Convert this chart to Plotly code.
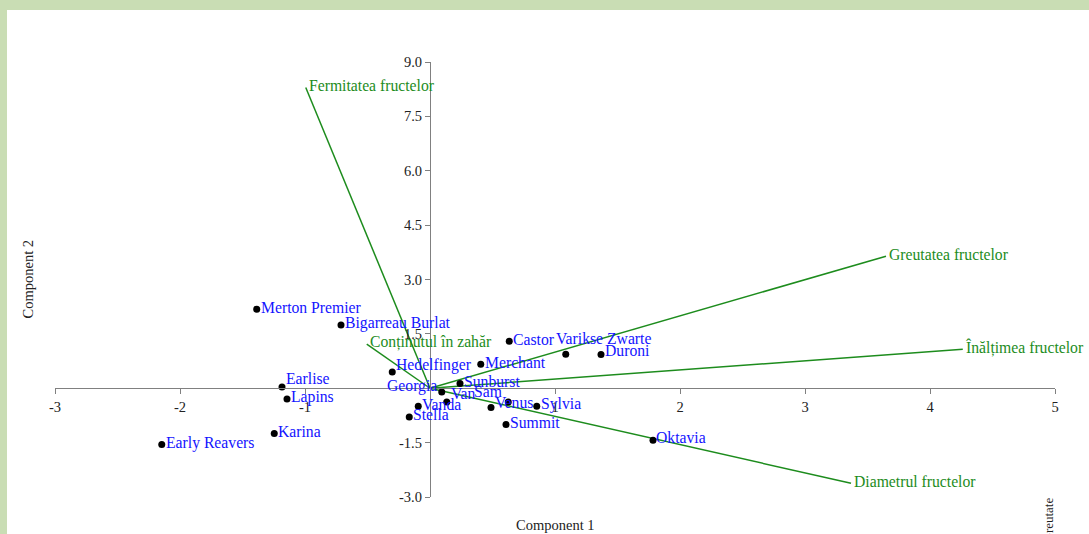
import plotly.graph_objects as go

# Cultivar scores on the first two principal components
cultivars = ["Merton Premier", "Bigarreau Burlat", "Hedelfinger", "Earlise", "Lapins",
             "Karina", "Early Reavers", "Georgia", "Van", "Sam", "Vanda", "Stella",
             "Sunburst", "Merchant", "Castor", "Venus", "Sylvia", "Summit",
             "Varikse Zwarte", "Duroni", "Oktavia"]
pc1 = [-1.386, -0.712, -0.302, -1.184, -1.144, -1.246, -2.146, 0.094, 0.134, 0.626,
       -0.094, -0.166, 0.240, 0.406, 0.634, 0.488, 0.854, 0.608, 1.086, 1.368, 1.784]
pc2 = [2.179, 1.746, 0.450, 0.036, -0.295, -1.250, -1.553, -0.102, -0.378, -0.378,
       -0.497, -0.792, 0.130, 0.662, 1.297, -0.532, -0.497, -1.001, 0.938, 0.930, -1.434]

# Trait loadings (biplot vectors)
traits = ["Fermitatea fructelor", "Greutatea fructelor", "Înălțimea fructelor",
          "Diametrul fructelor", "Conținutul în zahăr"]
load1 = [-0.994, 3.648, 4.262, 3.368, -0.506]
load2 = [8.295, 3.641, 1.076, -2.620, 1.214]

# Axis ticks
x_ticks = [-3, -2, -1, 1, 2, 3, 4, 5]
x_tick_text = ["-3", "-2", "-1", "1", "2", "3", "4", "5"]
y_ticks = [-3.0, -1.5, 1.5, 3.0, 4.5, 6.0, 7.5, 9.0]
y_tick_text = ["-3.0", "-1.5", "1.5", "3.0", "4.5", "6.0", "7.5", "9.0"]

SERIF = "Liberation Serif, Times New Roman, serif"
GREEN = "#1d8c1d"
BLUE = "#1414ff"
AXIS = "#808080"

# label placement tweaks (side, pixel x shift, pixel lift)
label_place = {
    "Earlise": ("left", 2, 8),
    "Hedelfinger": ("left", 2, 7),
    "Georgia": ("right", -3, 6),
    "Van": ("left", 2, 8),
    "Sam": ("right", -4, 10),
    "Venus": ("left", 2, 5),
    "Varikse Zwarte": ("left", -12, 16),
    "Duroni": ("left", 2, 4),
    "Oktavia": ("left", 1, 3),
}

fig = go.Figure()

for name, a, b in zip(traits, load1, load2):
    fig.add_trace(go.Scatter(x=[0, a], y=[0, b], mode="lines",
                             line=dict(color=GREEN, width=1.5),
                             hoverinfo="skip", showlegend=False, cliponaxis=False))

fig.add_trace(go.Scatter(x=pc1, y=pc2, mode="markers", text=cultivars,
                         marker=dict(color="black", size=7),
                         showlegend=False, cliponaxis=False))

annotations = []
for name, a, b in zip(cultivars, pc1, pc2):
    side, dx, lift = label_place.get(name, ("left", 2, 2))
    annotations.append(dict(x=a, y=b, xref="x", yref="y", text=name, showarrow=False,
                            xanchor=side, yanchor="middle", xshift=dx, yshift=lift,
                            font=dict(family=SERIF, size=15.7, color=BLUE)))
for name, a, b in zip(traits, load1, load2):
    annotations.append(dict(x=a, y=b, xref="x", yref="y", text=name, showarrow=False,
                            xanchor="left", yanchor="middle", xshift=1, yshift=2,
                            font=dict(family=SERIF, size=15.7, color=GREEN)))

annotations += [
    dict(x=0.5, y=-0.0644, xref="paper", yref="paper", text="Component 1",
         showarrow=False, xanchor="center", yanchor="middle",
         font=dict(family=SERIF, size=14.5, color="#222")),
    dict(x=-0.028, y=0.5, xref="paper", yref="paper", text="Component 2",
         showarrow=False, xanchor="center", yanchor="middle", textangle=-90,
         font=dict(family=SERIF, size=14.5, color="#222")),
    dict(x=0.993, y=0.0023, xref="paper", yref="paper", text="Greutate",
         showarrow=False, xanchor="center", yanchor="top", textangle=-90,
         font=dict(family=SERIF, size=13, color="#222")),
]

axis_common = dict(showline=True, linecolor=AXIS, linewidth=1.2, ticks="outside",
                   ticklen=5, tickcolor=AXIS, tickwidth=1.2, showgrid=False,
                   zeroline=False, anchor="free",
                   tickfont=dict(family=SERIF, size=14.5, color="#222"))

fig.update_layout(
    width=1089, height=534, autosize=False,
    margin=dict(l=55, r=34, t=62, b=37, pad=0),
    paper_bgcolor="#c9ddb4", plot_bgcolor="white",
    xaxis=dict(range=[-3, 5], domain=[0, 1], position=0.25,
               tickvals=x_ticks, ticktext=x_tick_text, **axis_common),
    yaxis=dict(range=[-3, 9], domain=[0, 1], position=0.375,
               tickvals=y_ticks, ticktext=y_tick_text, **axis_common),
    shapes=[dict(type="rect", xref="paper", yref="paper",
                 x0=-0.048, x1=1.04, y0=-0.1, y1=(497 - 10) / 435,
                 fillcolor="white", line=dict(width=0), layer="below")],
    annotations=annotations,
    hovermode="closest",
)

fig.write_html("out.html")
